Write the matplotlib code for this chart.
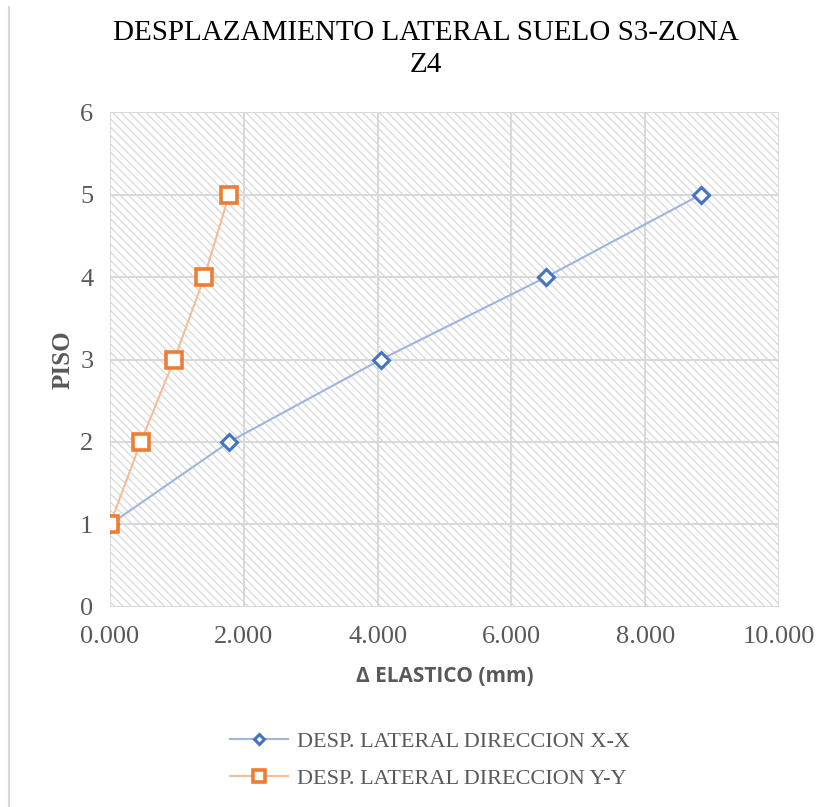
import matplotlib
matplotlib.use("Agg")
import matplotlib.pyplot as plt
from matplotlib.patches import Rectangle
from matplotlib.lines import Line2D
from matplotlib.ticker import FuncFormatter
from matplotlib.font_manager import FontProperties

pisos = [1, 2, 3, 4, 5]
desp_x = [0.0, 1.78, 4.05, 6.52, 8.83]
desp_y = [0.0, 0.46, 0.96, 1.41, 1.78]
x_ticks = [0, 2, 4, 6, 8, 10]
y_ticks = [0, 1, 2, 3, 4, 5, 6]
title = "DESPLAZAMIENTO LATERAL SUELO S3-ZONA\nZ4"
label_x = "DESP. LATERAL DIRECCION X-X"
label_y = "DESP. LATERAL DIRECCION Y-Y"

plt.rcParams['hatch.linewidth'] = 0.8
plt.rcParams['hatch.color'] = '#d4d4d4'

serif = ['Liberation Serif', 'DejaVu Serif']
fig = plt.figure(figsize=(8.27, 8.07), dpi=100)
ax = fig.add_axes([0.133, 0.248, 0.809, 0.613])

# hatched plot area
ax.add_patch(Rectangle((0, 0), 1, 1, transform=ax.transAxes, facecolor='white',
                       edgecolor='#d4d4d4', hatch='\\\\\\\\', linewidth=0, zorder=0))

ax.plot(desp_x, pisos, color='#9db5e0', lw=1.5, marker='D', ms=8,
        mfc='white', mec='#4472C4', mew=2.2, label=label_x, zorder=3)
ax.plot(desp_y, pisos, color='#f5bc96', lw=1.5, marker='s', ms=12,
        mfc='white', mec='#ED7D31', mew=2.6, label=label_y, zorder=3)

ax.set_xlim(0, 10)
ax.set_ylim(0, 6)
ax.set_xticks(x_ticks)
ax.set_yticks(y_ticks)
ax.xaxis.set_major_formatter(FuncFormatter(lambda v, p: f"{v:.3f}"))
ax.grid(True, color='#d9d9d9', lw=1.5, zorder=1)
ax.set_axisbelow(True)
for s in ax.spines.values():
    s.set_visible(False)
ax.tick_params(length=0, labelsize=19, colors='#595959')
ax.tick_params(axis='x', pad=14)
ax.tick_params(axis='y', pad=12)
for lbl in ax.get_xticklabels() + ax.get_yticklabels():
    lbl.set_fontfamily(serif)

ax.set_xlabel("∆ ELASTICO (mm)", fontsize=15, fontweight='bold', color='#595959',
              family=['Open Sans', 'DejaVu Sans'], labelpad=13)
ax.set_ylabel("PISO", fontsize=18, fontweight='bold', color='#595959',
              family=serif, labelpad=4)

title_fp = FontProperties(family='Liberation Serif', size=21)
fig.text(0.515, 0.975, title, ha='center', va='top', fontproperties=title_fp,
         color='black', linespacing=1.3)

leg = fig.legend(loc='center', bbox_to_anchor=(0.52, 0.058), ncol=1, frameon=False,
                 prop={'family': serif, 'size': 16}, handlelength=2.6,
                 labelspacing=0.75, handletextpad=0.4, markerscale=0.7)
for t in leg.get_texts():
    t.set_color('#595959')

fig.add_artist(Line2D([0.011, 0.011], [0.0, 0.991], transform=fig.transFigure,
                      color='#d9d9d9', lw=1.5))

fig.savefig("out.png", dpi=100)
